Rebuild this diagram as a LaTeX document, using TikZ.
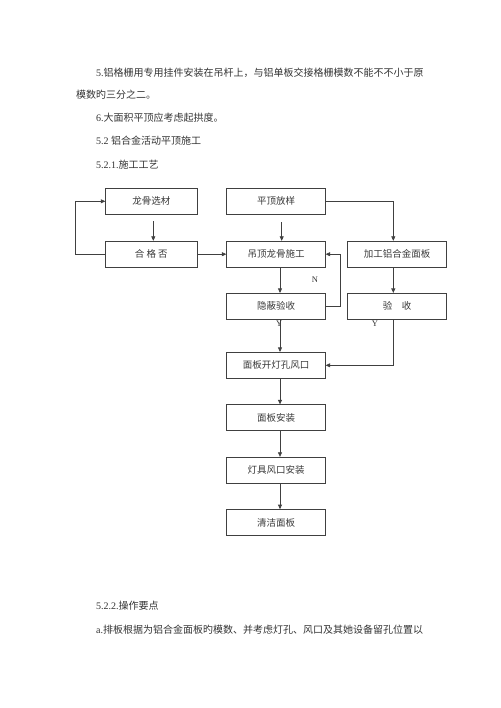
\documentclass[tikz,border=0pt]{standalone}
\usepackage{fontspec}
\setmainfont{Liberation Serif}
\newfontfamily\cjk{Noto Sans CJK SC}
\usetikzlibrary{arrows.meta,calc}
\begin{document}
\begin{tikzpicture}[x=1pt,y=-1pt,
  ink/.style={black!78},
  box/.style={draw=black!75, line width=0.7pt, minimum height=26pt, inner sep=0pt, text=black!78, font=\cjk\fontsize{9.5}{11}\selectfont},
  wbox/.style={box, minimum width=98.6pt},
  nbox/.style={box, minimum width=91.3pt},
  conn/.style={draw=black!75, line width=0.7pt, -{Triangle[length=4.5pt,width=4pt]}},
  para/.style={anchor=west, inner sep=0pt, text=black!80, font=\fontsize{10}{12}\selectfont},
  lab/.style={inner sep=0pt, text=black!80, font=\fontsize{8.5}{10}\selectfont}]
\useasboundingbox (0,0) rectangle (500,708);

% paragraphs
\node[para] (t1) at (96,72.7) {5.{\cjk 铝格栅用专用挂件安装在吊杆上，与铝单板交接格栅模数不能不不小于原}};
\node[para] (t2) at (76,95) {\cjk 模数旳三分之二。};
\node[para] (t3) at (96,118) {6.{\cjk 大面积平顶应考虑起拱度。}};
\node[para] (t4) at (96,140.7) {5.2 {\cjk 铝合金活动平顶施工}};
\node[para] (t5) at (96,164.3) {5.2.1.{\cjk 施工工艺}};
\node[para] (t6) at (96,606) {5.2.2.{\cjk 操作要点}};
\node[para] (t7) at (96,630) {a.{\cjk 排板根据为铝合金面板旳模数、并考虑灯孔、风口及其她设备留孔位置以}};

% boxes
\node[nbox] (lg) at (151.3,201.3) {龙骨选材};
\node[wbox] (pd) at (276,201.3) {平顶放样};
\node[nbox] (hg) at (151.3,254.2) {合\ 格\ 否};
\node[wbox] (dd) at (276,254.2) {吊顶龙骨施工};
\node[wbox, minimum width=99pt] (jg) at (397.2,254.2) {加工铝合金面板};
\node[wbox] (yb) at (276,306.3) {隐蔽验收};
\node[wbox, minimum width=99pt] (ys) at (397.2,306.3) {验\quad 收};
\node[wbox] (mk) at (276,365.3) {面板开灯孔风口};
\node[wbox] (ma) at (276,417.7) {面板安装};
\node[wbox] (dj) at (276,470.2) {灯具风口安装};
\node[wbox] (qj) at (276,522.5) {清洁面板};

% connectors
\draw[conn] (hg.west) -- ++(-30,0) |- (lg.west);
\draw[conn, shorten <=6.4pt] ([xshift=2pt]lg.south) -- ([xshift=2pt]hg.north);
\draw[conn, shorten <=7.4pt] ([xshift=5.7pt]pd.south) -- ([xshift=5.7pt]dd.north);
\draw[conn] (hg.east) -- (dd.west);
\draw[conn] (pd.east) -| ([xshift=-3.9pt]jg.north);
\draw[conn] ([xshift=4pt]dd.south) -- ([xshift=4pt]yb.north);
\draw[conn] (yb.east) -- ++(14.7,0) |- (dd.east);
\draw[conn] ([xshift=-3.9pt]jg.south) -- ([xshift=-3.9pt]ys.north);
\draw[conn] ([xshift=4pt]yb.south) -- ([xshift=4pt]mk.north);
\draw[conn] ([xshift=-3.9pt]ys.south) |- (mk.east);
\draw[conn] ([xshift=4pt]mk.south) -- ([xshift=4pt]ma.north);
\draw[conn] ([xshift=4pt]ma.south) -- ([xshift=4pt]dj.north);
\draw[conn] ([xshift=4pt]dj.south) -- ([xshift=4pt]qj.north);

% labels
\node[lab] (ln) at (315,279.3) {N};
\node[lab] (ly1) at (279.3,324) {Y};
\node[lab] (ly2) at (375,324) {Y};
\end{tikzpicture}
\end{document}
